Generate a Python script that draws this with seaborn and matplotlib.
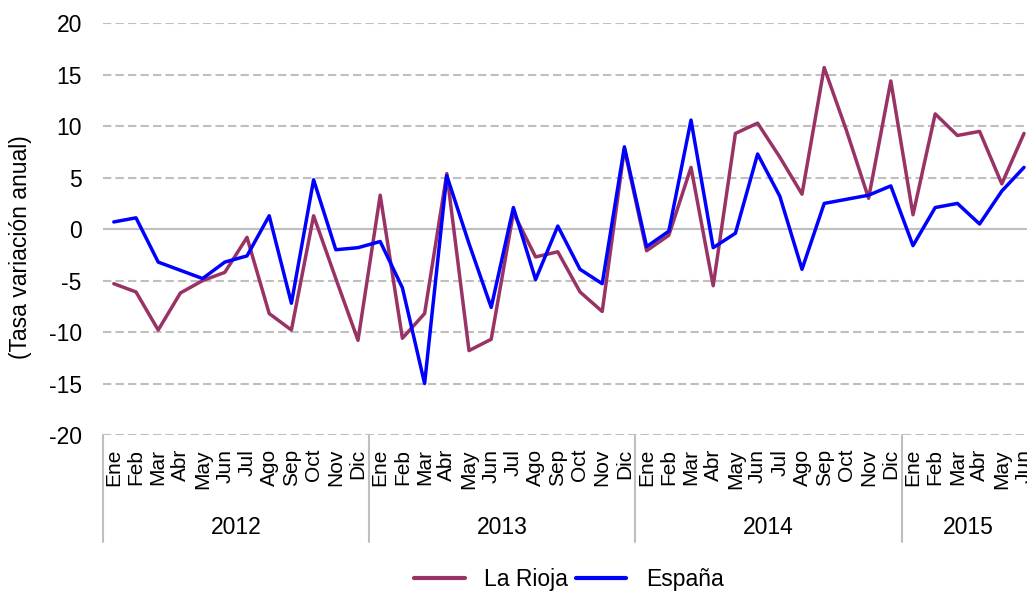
import pandas as pd
import matplotlib.pyplot as plt
import matplotlib.transforms as mtransforms
import seaborn as sns

# Datos: tasa de variación anual, Ene 2012 - Jun 2015
meses = ["Ene", "Feb", "Mar", "Abr", "May", "Jun", "Jul", "Ago", "Sep", "Oct", "Nov", "Dic"]
anios = ["2012", "2013", "2014", "2015"]
meses_por_anio = [12, 12, 12, 6]

la_rioja = [-5.3, -6.1, -9.8, -6.2, -5.0, -4.2, -0.8, -8.2, -9.8, 1.3, -4.8, -10.8,
            3.3, -10.6, -8.2, 5.4, -11.8, -10.7, 1.6, -2.7, -2.2, -6.1, -8.0, 7.8,
            -2.1, -0.6, 6.0, -5.5, 9.3, 10.3, 7.0, 3.4, 15.7, 9.6, 3.0, 14.4,
            1.4, 11.2, 9.1, 9.5, 4.4, 9.3]
espana = [0.7, 1.1, -3.2, -4.0, -4.8, -3.2, -2.6, 1.3, -7.2, 4.8, -2.0, -1.8,
          -1.2, -5.7, -15.0, 5.2, -1.4, -7.6, 2.1, -4.9, 0.3, -3.9, -5.3, 8.0,
          -1.7, -0.2, 10.6, -1.8, -0.4, 7.3, 3.2, -3.9, 2.5, 2.9, 3.3, 4.2,
          -1.6, 2.1, 2.5, 0.5, 3.7, 6.0]

etiquetas = []
for n in meses_por_anio:
    etiquetas += meses[:n]
n_puntos = len(etiquetas)

df = pd.DataFrame({
    "idx": list(range(n_puntos)) * 2,
    "valor": la_rioja + espana,
    "serie": ["La Rioja"] * n_puntos + ["España"] * n_puntos,
})

sns.set_style("white")
plt.rcParams["font.family"] = ["Liberation Sans", "DejaVu Sans"]
plt.rcParams["axes.unicode_minus"] = False
plt.rcParams["text.color"] = "black"
plt.rcParams["xtick.color"] = "black"
plt.rcParams["ytick.color"] = "black"
plt.rcParams["axes.labelcolor"] = "black"

gris = "#BFBFBF"
fig = plt.figure(figsize=(10.27, 5.93), dpi=100)
# the chart is cropped on the right in the original, so the axes run past the figure edge
ax = fig.add_axes([102.7 / 1027, 158 / 593, 932.4 / 1027, 411.7 / 593])

sns.lineplot(data=df, x="idx", y="valor", hue="serie",
             palette={"La Rioja": "#993366", "España": "#0000FF"},
             linewidth=2.5, ax=ax, zorder=3)

ax.set_xlim(-0.5, n_puntos - 0.5)
ax.set_ylim(-20, 20)
ax.set_yticks(range(-20, 21, 5))
ax.yaxis.grid(True, color=gris, linestyle=(0, (4, 2)), linewidth=1.5)
ax.axhline(0, color=gris, linewidth=1.5, zorder=2)
for s in ax.spines.values():
    s.set_visible(False)

ax.set_xticks(range(n_puntos))
ax.set_xticklabels(etiquetas, rotation=90, fontsize=15)
ax.tick_params(axis="x", length=0, pad=10)
ax.tick_params(axis="y", length=0, pad=15, labelsize=16.5)
ax.set_xlabel("")
ax.set_ylabel("(Tasa variación anual)", fontsize=16.5)
ax.yaxis.set_label_coords(-0.076, 0.457)

# year groups below the month labels
trans = mtransforms.blended_transform_factory(ax.transData, ax.transAxes)
inicio = -0.5
for anio, n in zip(anios, meses_por_anio):
    ax.plot([inicio, inicio], [0, -0.26], color=gris, linewidth=1.5,
            transform=trans, clip_on=False)
    ax.text(inicio + n / 2, -0.2235, anio, transform=trans, ha="center",
            va="center", fontsize=16.5)
    inicio += n

leg = ax.legend(handles=ax.get_legend_handles_labels()[0], labels=["La Rioja", "España"],
                loc="center", bbox_to_anchor=(0.5, -0.352), ncol=2, frameon=False,
                fontsize=16.5, handlelength=2.2, handletextpad=0.85, columnspacing=0.35)
for line in leg.get_lines():
    line.set_linewidth(3)

plt.savefig("out.png", dpi=100)
